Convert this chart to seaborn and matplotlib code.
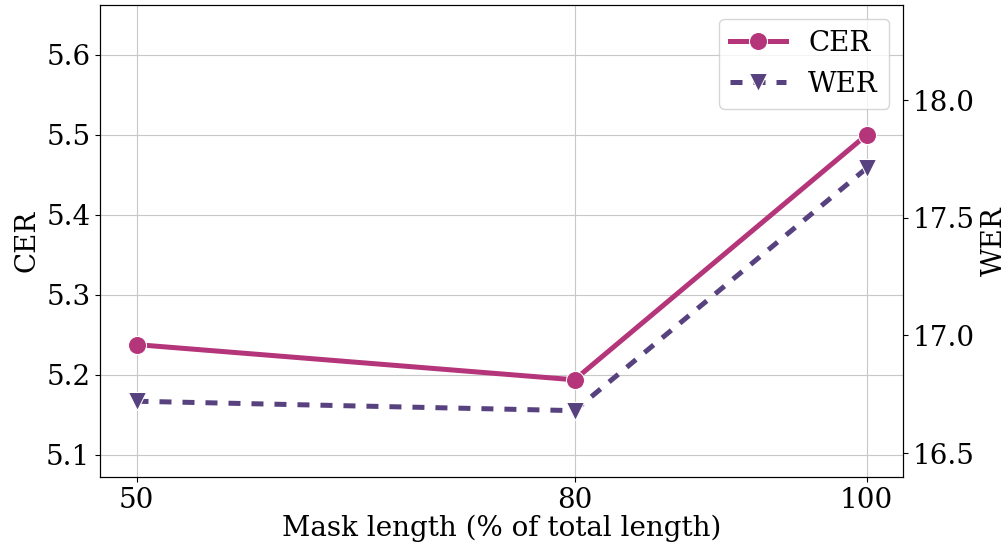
import pandas as pd
import matplotlib
matplotlib.use("Agg")
import matplotlib.pyplot as plt
import seaborn as sns

mask_length = [50, 80, 100]
cer = [5.238, 5.194, 5.500]
wer = [16.72, 16.68, 17.71]

df = pd.DataFrame({"Mask length": mask_length, "CER": cer, "WER": wer})

plt.rcParams["font.family"] = ["DejaVu Serif"]
plt.rcParams["font.size"] = 20

cer_color = "#b5357a"
wer_color = "#57427f"

fig, ax = plt.subplots(figsize=(10.08, 5.44), dpi=100)
fig.subplots_adjust(left=100 / 1008, right=903 / 1008, top=1 - 5 / 544, bottom=1 - 477 / 544)

sns.lineplot(data=df, x="Mask length", y="CER", ax=ax, color=cer_color, marker="o",
             markersize=13, linewidth=3.6, markeredgecolor="white", label="CER", legend=False)
ax2 = ax.twinx()
sns.lineplot(data=df, x="Mask length", y="WER", ax=ax2, color=wer_color, marker="v",
             markersize=13, linewidth=3.6, markeredgecolor="white",
             label="WER", legend=False)
for line in ax2.get_lines():
    line.set_dashes((2.4, 2.2))

ax.set_xticks(mask_length)
ax.set_xlabel("Mask length (% of total length)", labelpad=1)
ax.set_ylabel("CER")
ax2.set_ylabel("WER")
ax.set_ylim(5.0725, 5.6625)
ax2.set_ylim(16.398, 18.404)
ax.grid(True, color="#c8c8c8")
ax2.grid(False)
ax.set_axisbelow(True)

h1, l1 = ax.get_legend_handles_labels()
h2, l2 = ax2.get_legend_handles_labels()
ax2.legend(h1 + h2, l1 + l2, loc="upper right")

plt.savefig("out.png", dpi=100)
